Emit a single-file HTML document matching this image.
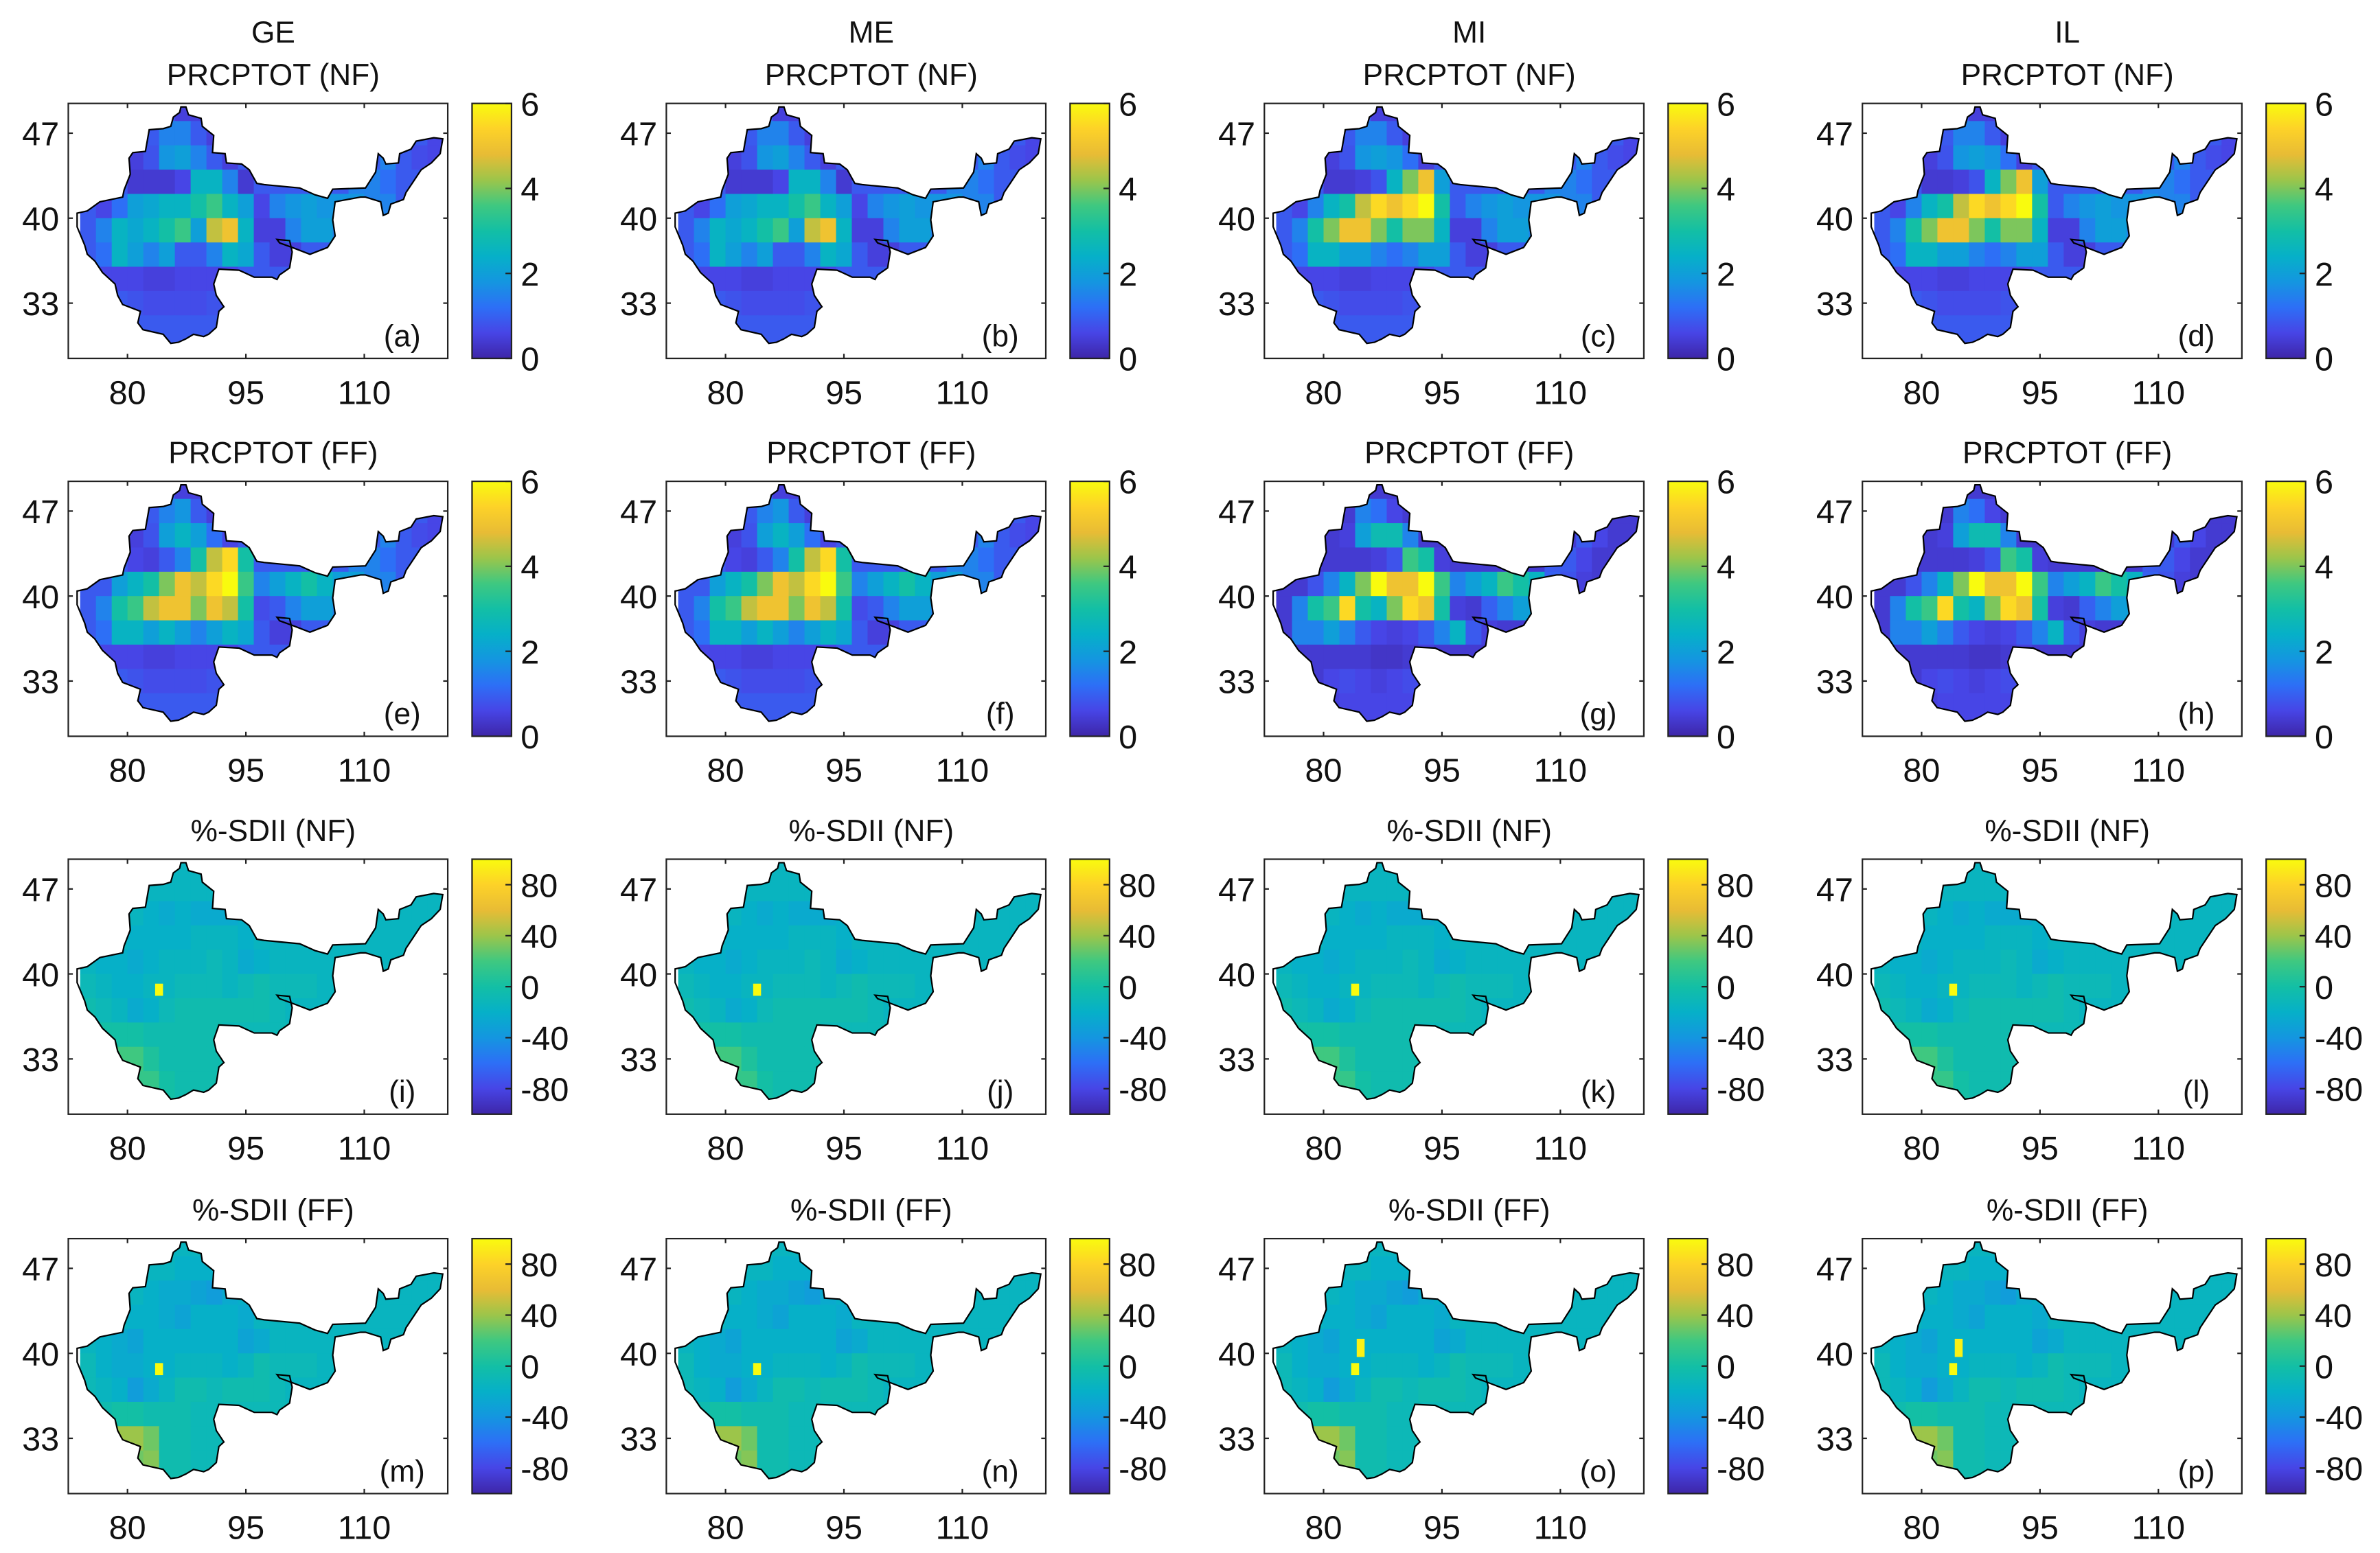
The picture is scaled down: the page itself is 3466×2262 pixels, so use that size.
<!DOCTYPE html>
<html><head><meta charset="utf-8"><style>
html,body{margin:0;padding:0;background:#fff;}
svg{display:block;}
text{font-family:"Liberation Sans","Noto Sans CJK SC",sans-serif;fill:#111;}
</style></head><body>
<svg id="fig" width="3466" height="2262" viewBox="0 0 1568 1023" xmlns="http://www.w3.org/2000/svg">
<defs>
<linearGradient id="parula" x1="0" y1="1" x2="0" y2="0">
<stop offset="0" stop-color="#3e26a8"/><stop offset="0.1" stop-color="#4745e6"/><stop offset="0.2" stop-color="#2d6ff6"/><stop offset="0.3" stop-color="#1496e0"/><stop offset="0.4" stop-color="#06b0c8"/><stop offset="0.5" stop-color="#13bfa5"/><stop offset="0.6" stop-color="#3fc880"/><stop offset="0.7" stop-color="#9cc54a"/><stop offset="0.8" stop-color="#e8bc35"/><stop offset="0.9" stop-color="#fdd228"/><stop offset="1" stop-color="#f9fb0e"/>
</linearGradient>
</defs>
</svg>
<script>
// ---- data ----
const models = ["GE","ME","MI","IL"];
const panelLetters = ["a","b","c","d","e","f","g","h","i","j","k","l","m","n","o","p"];
const rowTitles = ["PRCPTOT (NF)","PRCPTOT (FF)","%-SDII (NF)","%-SDII (FF)"];
const xTicks = [80,95,110];
const yTicks = [47,40,33];
const prcpTicks = [0,2,4,6];
const sdiiTicks = [-80,-40,0,40,80];
const cellLons = [74,76,78,80,82,84,86,88,90,92,94,96,98,100,102,104,106,108,110,112,114,116,118,120];
const cellLats = [48,46,44,42,40,38,36,34,32,30];
const prcpNF_GE = [
[0.9,0.9,0.9,0.9,0.9,0.9,0.5,0.5,0.9,0.9,0.9,0.9,0.9,0.9,0.9,0.9,0.9,0.9,0.9,0.9,0.9,0.9,0.9,0.9],
[0.9,0.9,0.9,0.9,0.9,1.5,1.5,0.9,0.5,0.9,0.9,0.9,0.9,0.9,0.9,0.9,0.9,0.9,0.9,0.9,0.9,0.9,0.6,0.6],
[0.9,0.9,0.9,0.5,0.8,1.8,2,1.5,0.9,0.5,0.9,0.9,0.9,0.9,0.9,0.9,0.9,0.9,0.9,1.5,0.9,0.7,0.6,0.6],
[0.9,0.9,0.9,0.4,0.4,0.4,0.6,2.5,2.5,1.5,0.4,0.9,0.9,0.9,0.9,0.9,0.9,1.5,1.5,1.2,0.9,0.9,0.9,0.9],
[0.9,0.6,1.2,2,2.2,2.5,2.5,3,3.5,2.5,2,0.6,1.5,1.8,2,1.8,1.8,1.8,1.5,1.5,0.9,0.9,0.9,0.9],
[0.9,1.5,2.5,2.2,2.5,3,3.5,2,4.5,5,2.5,0.5,0.5,1.5,2,2,1.5,0.9,0.9,0.9,0.9,0.9,0.9,0.9],
[0.9,1.2,2.5,2,1.5,2,0.9,0.9,1.5,2.5,2.2,0.9,0.5,0.5,0.9,0.9,0.9,0.9,0.9,0.9,0.9,0.9,0.9,0.9],
[0.9,0.6,0.6,0.6,0.5,0.5,0.6,0.6,0.6,0.6,0.9,0.9,0.9,0.9,0.9,0.9,0.9,0.9,0.9,0.9,0.9,0.9,0.9,0.9],
[0.9,0.9,0.9,0.8,0.7,0.7,0.7,0.7,0.8,0.7,0.9,0.9,0.9,0.9,0.9,0.9,0.9,0.9,0.9,0.9,0.9,0.9,0.9,0.9],
[0.9,0.9,0.9,0.9,0.9,0.9,0.9,0.9,0.9,0.9,0.9,0.9,0.9,0.9,0.9,0.9,0.9,0.9,0.9,0.9,0.9,0.9,0.9,0.9]];
const prcpNF_MI = [
[0.9,0.9,0.9,0.9,0.9,0.9,0.5,0.5,0.9,0.9,0.9,0.9,0.9,0.9,0.9,0.9,0.9,0.9,0.9,0.9,0.9,0.9,0.9,0.9],
[0.9,0.9,0.9,0.9,0.9,1.5,1.5,0.9,0.5,0.9,0.9,0.9,0.9,0.9,0.9,0.9,0.9,0.9,0.9,0.9,0.9,0.9,0.6,0.6],
[0.9,0.9,0.9,0.5,0.8,1.8,2,1.8,1.2,0.5,0.9,0.9,0.9,0.9,0.9,0.9,0.9,0.9,0.9,1.5,0.9,0.7,0.6,0.6],
[0.9,0.9,0.9,0.4,0.4,0.5,0.8,2.5,4,5,2,0.9,0.9,0.9,0.9,0.9,0.9,1.5,1.5,1.2,0.9,0.9,0.9,0.9],
[0.9,0.6,1.5,2.5,3,4.5,5.5,5,5.5,6,3,0.9,1.5,1.8,2,1.8,1.8,1.8,1.5,1.5,0.9,0.9,0.9,0.9],
[0.9,1.5,3,4,5,5,4,3,4,4,2.5,0.5,0.5,1.5,2,2,1.5,0.9,0.9,0.9,0.9,0.9,0.9,0.9],
[0.9,1.2,2.5,2.5,2,2,1.5,1.2,1.5,2,2,0.9,0.5,0.5,0.9,0.9,0.9,0.9,0.9,0.9,0.9,0.9,0.9,0.9],
[0.9,0.6,0.6,0.6,0.5,0.5,0.6,0.6,0.6,0.6,0.9,0.9,0.9,0.9,0.9,0.9,0.9,0.9,0.9,0.9,0.9,0.9,0.9,0.9],
[0.9,0.9,0.9,0.8,0.7,0.7,0.7,0.7,0.8,0.7,0.9,0.9,0.9,0.9,0.9,0.9,0.9,0.9,0.9,0.9,0.9,0.9,0.9,0.9],
[0.9,0.9,0.9,0.9,0.9,0.9,0.9,0.9,0.9,0.9,0.9,0.9,0.9,0.9,0.9,0.9,0.9,0.9,0.9,0.9,0.9,0.9,0.9,0.9]];
const prcpFF_GE = [
[0.9,0.9,0.9,0.9,0.9,0.9,0.5,0.5,0.9,0.9,0.9,0.9,0.9,0.9,0.9,0.9,0.9,0.9,0.9,0.9,0.9,0.9,0.9,0.9],
[0.9,0.9,0.9,0.9,0.9,1.5,1.8,0.9,0.5,0.9,0.9,0.9,0.9,0.9,0.9,0.9,0.9,0.9,0.9,0.9,0.9,0.9,0.6,0.6],
[0.9,0.9,0.9,0.5,0.8,2,2.5,2,1.2,0.6,0.9,0.9,0.9,0.9,0.9,0.9,0.9,0.9,0.9,1.5,0.9,0.7,0.6,0.6],
[0.9,0.9,0.9,0.6,0.5,0.9,1.5,3,4.5,5.5,3,0.9,0.9,0.9,0.9,0.9,0.9,1.5,1.5,1.2,0.9,0.9,0.9,0.9],
[0.9,0.9,2,2.5,3,4,5,4.5,5.5,6,3.5,1.5,2,2.5,3,2.5,2,2,1.5,1.5,0.9,0.9,0.9,0.9],
[0.9,1.5,3,3.5,4.5,5,5,4,5,4.5,3,0.7,0.9,1.5,2,2,1.5,0.9,0.9,0.9,0.9,0.9,0.9,0.9],
[0.9,1.2,2.5,2.5,2,2.5,2,1.5,2,2.5,2.2,0.9,0.5,0.5,0.9,0.9,0.9,0.9,0.9,0.9,0.9,0.9,0.9,0.9],
[0.9,0.6,0.6,0.6,0.5,0.5,0.6,0.6,0.6,0.6,0.9,0.9,0.9,0.9,0.9,0.9,0.9,0.9,0.9,0.9,0.9,0.9,0.9,0.9],
[0.9,0.9,0.9,0.8,0.7,0.7,0.7,0.7,0.8,0.7,0.9,0.9,0.9,0.9,0.9,0.9,0.9,0.9,0.9,0.9,0.9,0.9,0.9,0.9],
[0.9,0.9,0.9,0.9,0.9,0.9,0.9,0.9,0.9,0.9,0.9,0.9,0.9,0.9,0.9,0.9,0.9,0.9,0.9,0.9,0.9,0.9,0.9,0.9]];
const prcpFF_MI = [
[0.4,0.4,0.4,0.4,0.4,0.4,0.4,0.4,0.4,0.4,0.4,0.4,0.4,0.4,0.4,0.4,0.4,0.4,0.4,0.4,0.4,0.4,0.4,0.4],
[0.4,0.4,0.4,0.4,0.4,1.5,1.2,0.6,0.4,0.4,0.4,0.4,0.4,0.4,0.4,0.4,0.4,0.4,0.4,0.4,0.4,0.4,0.4,0.4],
[0.4,0.4,0.4,0.4,0.5,2,2.8,2.8,1.5,0.4,0.4,0.4,0.4,0.4,0.4,0.4,0.4,0.4,0.4,0.9,0.6,0.4,0.4,0.4],
[0.4,0.4,0.4,0.4,0.4,0.4,0.5,0.8,3.5,3,0.5,0.4,0.4,0.4,0.4,0.4,0.4,0.9,0.9,0.6,0.4,0.4,0.4,0.4],
[0.4,0.4,0.8,1.5,2.5,4,6,5,5,6,3.5,1.5,2,2.5,3.5,3,2.5,1,0.8,0.5,0.4,0.4,0.4,0.4],
[0.4,1.5,3,3.5,5.5,3,2.5,4,5.5,5,3,0.5,0.4,1,1.5,2,2,0.8,0.6,0.4,0.4,0.4,0.4,0.4],
[0.4,1.5,1.5,2,1.5,0.9,0.6,0.5,0.6,0.9,1.5,2.5,0.9,0.5,0.4,0.4,0.4,0.4,0.4,0.4,0.4,0.4,0.4,0.4],
[0.4,0.4,0.4,0.4,0.4,0.4,0.3,0.3,0.4,0.5,0.4,0.4,0.4,0.4,0.4,0.4,0.4,0.4,0.4,0.4,0.4,0.4,0.4,0.4],
[0.4,0.4,0.4,0.6,0.7,0.6,0.5,0.6,0.7,0.6,0.4,0.4,0.4,0.4,0.4,0.4,0.4,0.4,0.4,0.4,0.4,0.4,0.4,0.4],
[0.4,0.4,0.4,0.5,0.6,0.6,0.6,0.6,0.6,0.6,0.4,0.4,0.4,0.4,0.4,0.4,0.4,0.4,0.4,0.4,0.4,0.4,0.4,0.4]];
const sdiiNF = [
[-15,-15,-15,-15,-15,-15,-15,-15,-15,-15,-15,-15,-15,-15,-15,-15,-15,-15,-15,-15,-15,-15,-15,-15],
[-15,-15,-15,-15,-15,-15,-15,-15,-15,-15,-15,-15,-15,-15,-15,-15,-15,-15,-15,-15,-15,-15,-15,-15],
[-15,-15,-15,-15,-20,-25,-20,-25,-25,-25,-20,-15,-15,-15,-15,-15,-15,-15,-15,-15,-15,-15,-15,-15],
[-15,-15,-15,-20,-20,-20,-20,-15,-15,-15,-20,-15,-15,-15,-15,-15,-15,-15,-15,-15,-15,-15,-15,-15],
[-15,-20,-20,-25,-20,-15,-15,-15,-10,-15,-25,-20,-15,-15,-15,-15,-15,-15,-15,-15,-15,-15,-15,-15],
[-10,-15,-20,-20,-15,-15,-10,-10,-10,-15,-10,-5,-10,-10,-10,-15,-15,-15,-15,-15,-15,-15,-15,-15],
[-5,-10,-15,-25,-20,-10,-5,-5,-5,-5,-5,-5,-10,-15,-15,-15,-15,-15,-15,-15,-15,-15,-15,-15],
[0,0,0,0,-5,-5,-5,-5,-5,-10,-10,-10,-10,-10,-10,-10,-10,-10,-10,-10,-10,-10,-10,-10],
[0,10,20,20,5,-5,-5,-5,-5,-10,-10,-10,-10,-10,-10,-10,-10,-10,-10,-10,-10,-10,-10,-10],
[0,5,10,15,15,0,-5,-5,-5,-10,-10,-10,-10,-10,-10,-10,-10,-10,-10,-10,-10,-10,-10,-10]];
const sdiiFF = [
[-15,-15,-15,-15,-15,-15,-15,-15,-15,-15,-15,-15,-15,-15,-15,-15,-15,-15,-15,-15,-15,-15,-15,-15],
[-15,-15,-15,-15,-15,-15,-20,-20,-20,-15,-15,-15,-15,-15,-15,-15,-15,-15,-15,-15,-15,-15,-15,-15],
[-15,-15,-15,-15,-20,-25,-25,-30,-35,-25,-20,-15,-15,-15,-15,-15,-15,-15,-15,-15,-15,-15,-15,-15],
[-15,-15,-15,-20,-20,-25,-30,-20,-20,-20,-25,-15,-15,-15,-15,-15,-15,-15,-15,-15,-15,-15,-15,-15],
[-15,-20,-25,-30,-20,-20,-20,-20,-20,-20,-30,-25,-15,-15,-15,-15,-15,-15,-15,-15,-15,-15,-15,-15],
[-10,-20,-25,-25,-20,-20,-15,-15,-15,-20,-15,-5,-10,-10,-10,-15,-15,-15,-15,-15,-15,-15,-15,-15],
[-10,-15,-20,-35,-25,-15,-5,-5,-10,-5,-5,-5,-10,-15,-15,-15,-15,-15,-15,-15,-15,-15,-15,-15],
[-5,-5,0,0,-5,-5,-5,-10,-10,-10,-10,-10,-10,-10,-10,-10,-10,-10,-10,-10,-10,-10,-10,-10],
[0,20,40,40,30,-5,-5,-10,-10,-10,-10,-10,-10,-10,-10,-10,-10,-10,-10,-10,-10,-10,-10,-10],
[-5,10,20,30,35,-5,-5,-10,-10,-10,-10,-10,-10,-10,-10,-10,-10,-10,-10,-10,-10,-10,-10,-10]];
const sdiiHotLon = [83.5,84.2];
const sdiiHotLat = [38.2,40.2];
const sdiiHotVal = [100,95];
const grids = [prcpNF_GE,prcpNF_GE,prcpNF_MI,prcpNF_MI,prcpFF_GE,prcpFF_GE,prcpFF_MI,prcpFF_MI,sdiiNF,sdiiNF,sdiiNF,sdiiNF,sdiiFF,sdiiFF,sdiiFF,sdiiFF];
// ---- helpers ----
const NS="http://www.w3.org/2000/svg";
const svg=document.getElementById('fig');
function mk(tag,attrs,parent){const e=document.createElementNS(NS,tag);for(const k in attrs)e.setAttribute(k,attrs[k]);(parent||svg).appendChild(e);return e;}
const stops=[[0,62,38,168],[0.1,71,69,230],[0.2,45,111,246],[0.3,20,150,224],[0.4,6,176,200],[0.5,19,191,165],[0.6,63,200,128],[0.7,156,197,74],[0.8,232,188,53],[0.9,253,210,40],[1,249,251,14]];
function parula(t){t=Math.max(0,Math.min(1,t));for(let i=1;i<stops.length;i++){if(t<=stops[i][0]){const a=stops[i-1],b=stops[i];const f=(t-a[0])/(b[0]-a[0]);return `rgb(${Math.round(a[1]+f*(b[1]-a[1]))},${Math.round(a[2]+f*(b[2]-a[2]))},${Math.round(a[3]+f*(b[3]-a[3]))})`;}}return 'rgb(249,251,14)';}
// outline traced in reference crop coordinates (box spans 25..1525 x, 30..1145 y)
const shapeZ=[[470,45],[490,45],[500,80],[550,95],[555,130],[600,170],[595,245],[645,250],[650,290],[710,295],[740,320],[770,380],[800,385],[940,400],[1000,430],[1050,445],[1070,405],[1200,400],[1240,330],[1250,250],[1270,270],[1280,295],[1330,290],[1335,250],[1380,230],[1400,195],[1470,180],[1505,185],[1495,250],[1460,290],[1420,320],[1390,370],[1360,420],[1350,450],[1300,470],[1290,510],[1270,520],[1260,460],[1200,440],[1180,440],[1080,460],[1070,540],[1080,610],[1050,660],[980,690],[910,660],[860,640],[850,625],[900,630],[910,680],[900,750],[860,780],[850,800],[830,790],[760,790],[720,770],[700,760],[620,755],[600,820],[610,870],[640,920],[620,940],[610,1010],[580,1040],[560,1050],[520,1040],[490,1060],[460,1075],[430,1080],[400,1040],[320,1020],[300,990],[310,940],[240,910],[220,870],[210,820],[160,770],[130,720],[100,690],[90,650],[60,570],[60,510],[100,500],[150,460],[240,440],[245,410],[270,340],[265,270],[280,245],[330,240],[345,145],[400,140],[430,130],[440,90],[465,70]];
const BW=250,BH=168,LON0=72.5,LAT0=49.45,PXLON=5.2,PXLAT=8;
const colX=[45,439,833,1227], rowY=[68,317,566,816];
const defs=svg.querySelector('defs');
for(let r=0;r<4;r++)for(let c=0;c<4;c++){
  const idx=r*4+c, bx=colX[c], by=rowY[r];
  const isP=r<2, vmin=isP?0:-100, vmax=isP?6:100;
  const xs=lon=>bx+(lon-LON0)*PXLON, ys=lat=>by+(LAT0-lat)*PXLAT;
  const g=mk('g',{});
  
  
  const pts=shapeZ.map(p=>(bx+(p[0]-25)/6).toFixed(1)+','+(by+(p[1]-30)/6.64).toFixed(1)).join(' ');
  const cp=mk('clipPath',{id:'cp'+idx},defs);
  mk('polygon',{points:pts},cp);
  mk('rect',{x:bx,y:by,width:BW,height:BH,fill:'#fff'},g);
  const cg=mk('g',{'clip-path':'url(#cp'+idx+')'},g);
  const grid=grids[idx];
  for(let i=0;i<cellLats.length;i++)for(let j=0;j<cellLons.length;j++){
    const top=cellLats[i]+2, bot=(i===cellLats.length-1)?cellLats[i]-1:cellLats[i];
    const cell=mk('rect',{x:xs(cellLons[j]),y:ys(top),width:2*PXLON+0.4,height:(top-bot)*PXLAT+0.4,fill:parula((grid[i][j]-vmin)/(vmax-vmin))},cg);
    
    
  }
  if(!isP){
    const n=(r===3&&c>=2)?2:1;
    for(let k=0;k<n;k++){
      const h=mk('rect',{x:xs(sdiiHotLon[k]),y:ys(sdiiHotLat[k]+1),width:PXLON,height:PXLAT*(k===1?1.5:1),fill:parula((sdiiHotVal[k]-vmin)/(vmax-vmin))},cg);
      
      
    }
  }
  const outline=mk('polygon',{points:pts,fill:'none',stroke:'#000','stroke-width':1},g);
  
  
  mk('rect',{x:bx,y:by,width:BW,height:BH,fill:'none',stroke:'#222','stroke-width':1},g);
  xTicks.forEach(t=>{const x=xs(t);mk('line',{x1:x,x2:x,y1:by+BH,y2:by+BH-3,stroke:'#222'},g);mk('line',{x1:x,x2:x,y1:by,y2:by+3,stroke:'#222'},g);
    const tt=mk('text',{x:x,y:by+BH+30,'font-size':22,'text-anchor':'middle'},g);tt.textContent=t;
    });
  yTicks.forEach(t=>{const y=ys(t);mk('line',{x1:bx,x2:bx+3,y1:y,y2:y,stroke:'#222'},g);mk('line',{x1:bx+BW,x2:bx+BW-3,y1:y,y2:y,stroke:'#222'},g);
    const tt=mk('text',{x:bx-6,y:y+8,'font-size':22,'text-anchor':'end'},g);tt.textContent=t;
    });
  const lab=mk('text',{x:bx+BW-30,y:by+BH-8,'font-size':20,'text-anchor':'middle'},g);lab.textContent='('+panelLetters[idx]+')';
  
  const cbx=bx+266;
  const cb=mk('rect',{x:cbx,y:by,width:26,height:BH,fill:'url(#parula)',stroke:'#222','stroke-width':1},g);
  
  (isP?prcpTicks:sdiiTicks).forEach(t=>{const y=by+BH-(t-vmin)/(vmax-vmin)*BH;
    mk('line',{x1:cbx+26,x2:cbx+22,y1:y,y2:y,stroke:'#222'},g);
    const tt=mk('text',{x:cbx+32,y:y+8,'font-size':22},g);tt.textContent=t;
    });
  const tx=bx+135;
  if(r===0){const m=mk('text',{x:tx,y:28,'font-size':20,'text-anchor':'middle'},g);m.textContent=models[c];
    }
  const ti=mk('text',{x:tx,y:r===0?56:by-12,'font-size':20,'text-anchor':'middle'},g);ti.textContent=rowTitles[r];
  
}
</script>
</body></html>
